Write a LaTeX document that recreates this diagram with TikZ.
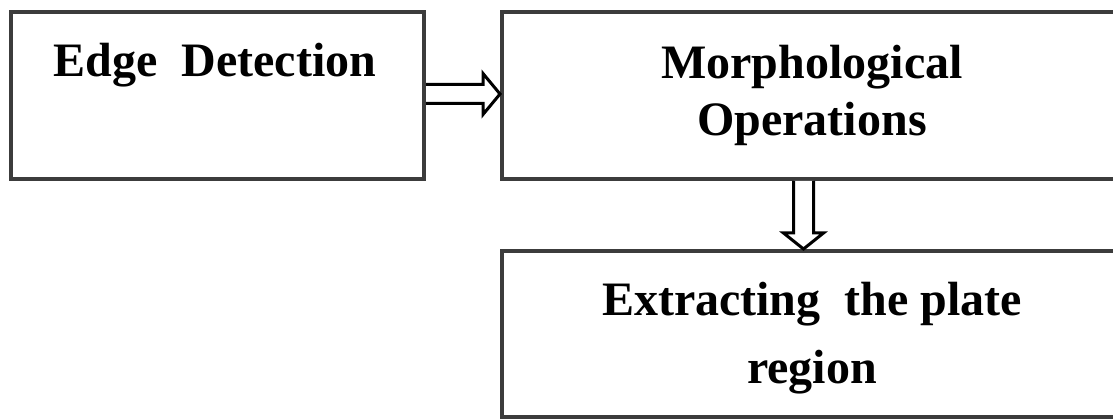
\documentclass[tikz,border=0pt]{standalone}
\usepackage{fontspec}
\setmainfont{Liberation Serif}
\usetikzlibrary{calc}
\definecolor{boxline}{HTML}{3C3C3C}
\tikzset{
  stagebox/.style={draw=boxline, line width=4pt, fill=white, inner sep=0pt, rectangle},
  stagetext/.style={font=\bfseries\fontsize{48}{57}\selectfont, align=center, inner sep=0pt, anchor=base},
  blockarrow/.style={draw=black, line width=3pt, fill=white, line join=miter}
}
\begin{document}
\begin{tikzpicture}[x=1pt,y=-1pt]
\useasboundingbox (0,0) rectangle (1113,419);
\clip (0,0) rectangle (1113,419);
\fill[white] (0,0) rectangle (1113,419);
% boxes
\node[stagebox, minimum width=413pt, minimum height=167pt] (b1) at (217.5,95.5) {};
\node[stagebox, minimum width=623pt, minimum height=167pt] (b2) at (813.5,95.5) {};
\node[stagebox, minimum width=623pt, minimum height=166pt] (b3) at (813.5,334) {};
% texts (base anchor = baseline of the last line)
\node[stagetext] (t1) at (215,77) {Edge\ \ Detection};
\node[stagetext] (t2) at (812,136) {Morphological\\Operations};
\node[stagetext, font=\bfseries\fontsize{48}{68}\selectfont] (t3) at (812,383) {Extracting\ \ the plate\\region};
% horizontal block arrow b1 -> b2
\draw[blockarrow]
  ($(b1.east)+(0,-11)$) -- ($(b1.east)+(57,-11)$) -- ($(b1.east)+(57,-22)$)
  -- ($(b2.west)+(0,-1.5)$) -- ($(b1.east)+(57,19)$) -- ($(b1.east)+(57,8)$)
  -- ($(b1.east)+(0,8)$);
% vertical block arrow b2 -> b3
\coordinate (vs) at ($(b2.south)+(-10,0)$);
\coordinate (vt) at ($(b3.north)+(-10,0)$);
\draw[blockarrow]
  ($(vs)+(-10,0)$) -- ($(vs)+(-10,52)$) -- ($(vs)+(-20,52)$)
  -- (vt) -- ($(vs)+(20,52)$) -- ($(vs)+(10,52)$) -- ($(vs)+(10,0)$);
\end{tikzpicture}
\end{document}
